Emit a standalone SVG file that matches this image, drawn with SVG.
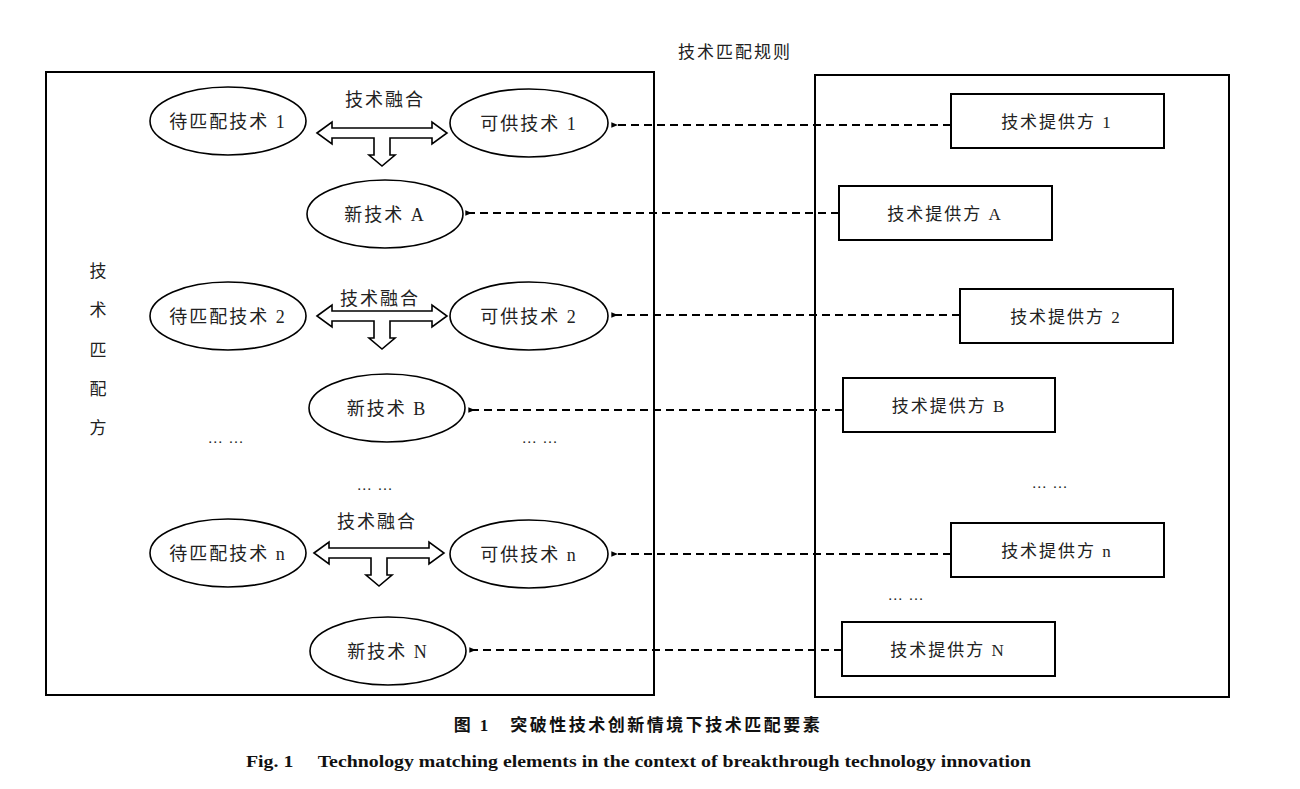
<svg xmlns="http://www.w3.org/2000/svg" width="1300" height="789" viewBox="0 0 1300 789">
<defs>
<style>
.frame{fill:none;stroke:#000;stroke-width:2}
.el{fill:#fff;stroke:#000;stroke-width:1.6}
.bx{fill:#fff;stroke:#000;stroke-width:2}
.t{font-family:"Liberation Serif","Noto Sans CJK SC",serif;font-size:18px;fill:#222;text-anchor:middle;letter-spacing:2px}
.dots{font-family:"Liberation Serif",serif;font-size:15px;fill:#222;text-anchor:middle;letter-spacing:1px}
.dash{fill:none;stroke:#000;stroke-width:1.8;stroke-dasharray:8,5}
.fat{fill:#fff;stroke:#000;stroke-width:1.6;stroke-linejoin:miter}
.cap{font-family:"Liberation Serif","Noto Sans CJK SC",serif;font-weight:bold;fill:#111;text-anchor:middle}
</style>
<marker id="ah" viewBox="0 0 10 10" refX="9" refY="5" markerWidth="7" markerHeight="7" orient="auto-start-reverse" markerUnits="userSpaceOnUse">
<path d="M10,1 L0,5 L10,9 Z" fill="#000"/>
</marker>
<g id="fuse">
<path class="fat" d="M-65,0 L-50,-11 L-50,-5 L50,-5 L50,-11 L65,0 L50,11 L50,5 L8,5 L8,22 L13,22 L0,33 L-13,22 L-8,22 L-8,5 L-50,5 L-50,11 Z"/>
</g>
</defs>

<g id="left-frame"><rect class="frame" x="46" y="72" width="608" height="623"/></g>
<g id="right-frame"><rect class="frame" x="815" y="75" width="414" height="622"/></g>
<text id="rule-title" class="t" x="735" y="58" style="font-size:17px">技术匹配规则</text>
<g id="left-label" class="t" style="font-size:17px">
<text x="99" y="277">技</text>
<text x="99" y="316">术</text>
<text x="99" y="356">匹</text>
<text x="99" y="395">配</text>
<text x="99" y="434">方</text>
</g>

<g id="tech1"><ellipse class="el" cx="228" cy="121" rx="78" ry="34"/><text class="t" x="228" y="128">待匹配技术 1</text></g>
<g id="avail1"><ellipse class="el" cx="529" cy="123" rx="79" ry="34"/><text class="t" x="529" y="130">可供技术 1</text></g>
<g id="newA"><ellipse class="el" cx="385" cy="214" rx="78" ry="34"/><text class="t" x="385" y="221">新技术 A</text></g>
<g id="fuse1"><text class="t" x="385" y="106">技术融合</text><use href="#fuse" x="382" y="133"/></g>

<g id="tech2"><ellipse class="el" cx="228" cy="316" rx="78" ry="34"/><text class="t" x="228" y="323">待匹配技术 2</text></g>
<g id="avail2"><ellipse class="el" cx="529" cy="316" rx="79" ry="34"/><text class="t" x="529" y="323">可供技术 2</text></g>
<g id="newB"><ellipse class="el" cx="387" cy="408" rx="78" ry="34"/><text class="t" x="387" y="415">新技术 B</text></g>
<g id="fuse2"><text class="t" x="380" y="305">技术融合</text><use href="#fuse" x="382" y="316"/></g>

<g id="techn"><ellipse class="el" cx="228" cy="553" rx="78" ry="34"/><text class="t" x="228" y="560">待匹配技术 n</text></g>
<g id="availn"><ellipse class="el" cx="529" cy="554" rx="79" ry="34"/><text class="t" x="529" y="561">可供技术 n</text></g>
<g id="newN"><ellipse class="el" cx="388" cy="651" rx="78" ry="34"/><text class="t" x="388" y="658">新技术 N</text></g>
<g id="fusen"><text class="t" x="377" y="528">技术融合</text><use href="#fuse" x="379" y="553"/></g>

<g id="p1"><rect class="bx" x="951" y="94" width="213" height="54"/><text class="t" x="1057" y="128" style="font-size:17px">技术提供方 1</text></g>
<g id="pA"><rect class="bx" x="839" y="186" width="213" height="54"/><text class="t" x="945" y="220" style="font-size:17px">技术提供方 A</text></g>
<g id="p2"><rect class="bx" x="960" y="289" width="213" height="54"/><text class="t" x="1066" y="323" style="font-size:17px">技术提供方 2</text></g>
<g id="pB"><rect class="bx" x="843" y="378" width="212" height="54"/><text class="t" x="949" y="412" style="font-size:17px">技术提供方 B</text></g>
<g id="pn"><rect class="bx" x="951" y="523" width="213" height="54"/><text class="t" x="1057" y="557" style="font-size:17px">技术提供方 n</text></g>
<g id="pN"><rect class="bx" x="842" y="622" width="213" height="54"/><text class="t" x="948" y="656" style="font-size:17px">技术提供方 N</text></g>

<g id="connectors">
<line class="dash" x1="951" y1="125" x2="612" y2="125" marker-end="url(#ah)"/>
<line class="dash" x1="839" y1="213" x2="466" y2="213" marker-end="url(#ah)"/>
<line class="dash" x1="960" y1="315" x2="612" y2="315" marker-end="url(#ah)"/>
<line class="dash" x1="843" y1="410" x2="469" y2="410" marker-end="url(#ah)"/>
<line class="dash" x1="951" y1="554" x2="612" y2="554" marker-end="url(#ah)"/>
<line class="dash" x1="842" y1="650" x2="470" y2="650" marker-end="url(#ah)"/>
</g>

<g id="ellipses-dots">
<text class="dots" x="226" y="443">… …</text>
<text class="dots" x="540" y="443">… …</text>
<text class="dots" x="375" y="490">… …</text>
<text class="dots" x="1050" y="488">… …</text>
<text class="dots" x="906" y="600">… …</text>
</g>

<text id="cap-cn" class="cap" x="638" y="731" style="font-size:17px;letter-spacing:2.5px">图 1　突破性技术创新情境下技术匹配要素</text>
<text id="cap-en" class="cap" x="246" y="767" style="font-size:17px;text-anchor:start" textLength="785" lengthAdjust="spacingAndGlyphs">Fig. 1　 Technology matching elements in the context of breakthrough technology innovation</text>
</svg>
